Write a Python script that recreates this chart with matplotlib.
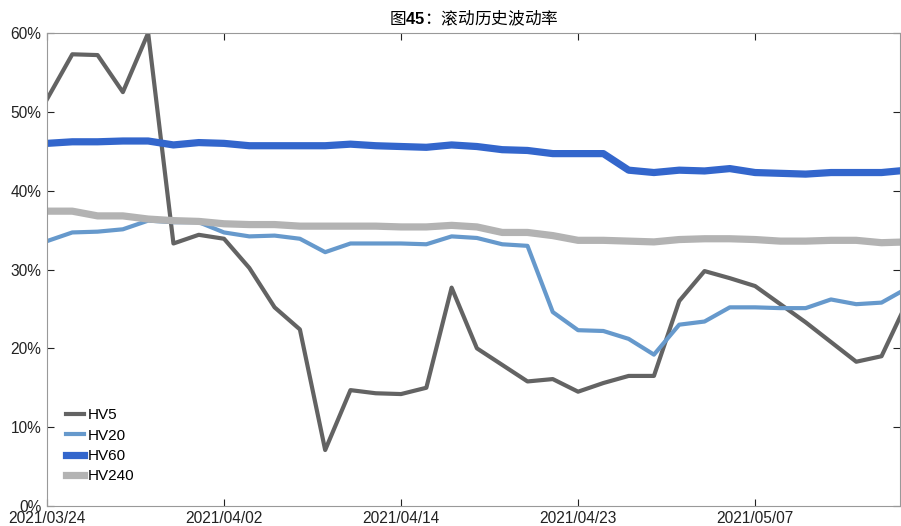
import matplotlib
matplotlib.use("Agg")
import matplotlib.pyplot as plt
from matplotlib.ticker import FuncFormatter, FixedLocator

dates = ["2021/03/24", "2021/03/25", "2021/03/26", "2021/03/29", "2021/03/30", "2021/03/31",
         "2021/04/01", "2021/04/02", "2021/04/06", "2021/04/07", "2021/04/08", "2021/04/09",
         "2021/04/12", "2021/04/13", "2021/04/14", "2021/04/15", "2021/04/16", "2021/04/19",
         "2021/04/20", "2021/04/21", "2021/04/22", "2021/04/23", "2021/04/26", "2021/04/27",
         "2021/04/28", "2021/04/29", "2021/04/30", "2021/05/06", "2021/05/07", "2021/05/10",
         "2021/05/11", "2021/05/12", "2021/05/13", "2021/05/14", "2021/05/17"]

hv5 = [51.6, 57.3, 57.2, 52.5, 60.0, 33.3, 34.4, 33.9, 30.2, 25.2, 22.4, 7.1, 14.7, 14.3,
       14.2, 15.0, 27.7, 20.0, 17.9, 15.8, 16.1, 14.5, 15.6, 16.5, 16.5, 26.0, 29.8, 28.9,
       27.9, 25.6, 23.3, 20.8, 18.3, 19.0, 25.8]
hv20 = [33.6, 34.7, 34.8, 35.1, 36.2, 36.0, 36.0, 34.7, 34.2, 34.3, 33.9, 32.2, 33.3, 33.3,
        33.3, 33.2, 34.2, 34.0, 33.2, 33.0, 24.6, 22.3, 22.2, 21.2, 19.2, 23.0, 23.4, 25.2,
        25.2, 25.1, 25.1, 26.2, 25.6, 25.8, 27.6]
hv60 = [46.0, 46.2, 46.2, 46.3, 46.3, 45.8, 46.1, 46.0, 45.7, 45.7, 45.7, 45.7, 45.9, 45.7,
        45.6, 45.5, 45.8, 45.6, 45.2, 45.1, 44.7, 44.7, 44.7, 42.6, 42.3, 42.6, 42.5, 42.8,
        42.3, 42.2, 42.1, 42.3, 42.3, 42.3, 42.6]
hv240 = [37.4, 37.4, 36.8, 36.8, 36.4, 36.2, 36.1, 35.8, 35.7, 35.7, 35.5, 35.5, 35.5, 35.5,
         35.4, 35.4, 35.6, 35.4, 34.7, 34.7, 34.3, 33.7, 33.7, 33.6, 33.5, 33.8, 33.9, 33.9,
         33.8, 33.6, 33.6, 33.7, 33.7, 33.4, 33.5]

series_names = ["HV5", "HV20", "HV60", "HV240"]
tick_idx = [0, 7, 14, 21, 28]

plt.rcParams['font.family'] = ['Liberation Sans', 'Noto Sans CJK SC', 'DejaVu Sans']
plt.rcParams['mathtext.fontset'] = 'custom'
plt.rcParams['mathtext.bf'] = 'Liberation Sans:bold'
plt.rcParams['mathtext.rm'] = 'Liberation Sans'

fig = plt.figure(figsize=(9.01, 5.26), dpi=100)
ax = fig.add_axes([47 / 901, 1 - 506 / 526, (900 - 47) / 901, (506 - 33) / 526])

x = list(range(len(dates)))
ax.plot(x, hv5, color="#636363", lw=3.0, label=series_names[0])
ax.plot(x, hv20, color="#6699CC", lw=3.0, label=series_names[1])
ax.plot(x, hv60, color="#3366CC", lw=5.2, label=series_names[2])
ax.plot(x, hv240, color="#B3B3B3", lw=5.2, label=series_names[3])

ax.set_xlim(0, 33.73)
ax.set_ylim(0, 60)
ax.xaxis.set_major_locator(FixedLocator(tick_idx))
ax.set_xticklabels([dates[i] for i in tick_idx])
ax.set_yticks([0, 10, 20, 30, 40, 50, 60])
ax.yaxis.set_major_formatter(FuncFormatter(lambda v, p: f"{int(v)}%"))

ax.tick_params(direction="in", length=5, width=0.8, colors="#222222", labelsize=11.2,
               top=True, right=True, pad=4)
ax.tick_params(axis="x", pad=3.5)
for s in ax.spines.values():
    s.set_color("#999999")
    s.set_linewidth(0.8)

ax.set_title("图$\\mathbf{45}$：滚动历史波动率", fontsize=12, pad=6,
             family=['Noto Sans CJK SC', 'DejaVu Sans'])

leg = ax.legend(loc="lower left", bbox_to_anchor=(0.015, 0.035), frameon=False,
                fontsize=11, handlelength=1.2, handletextpad=0.2, labelspacing=0.42,
                borderaxespad=0)

fig.savefig("out.png", dpi=100)
